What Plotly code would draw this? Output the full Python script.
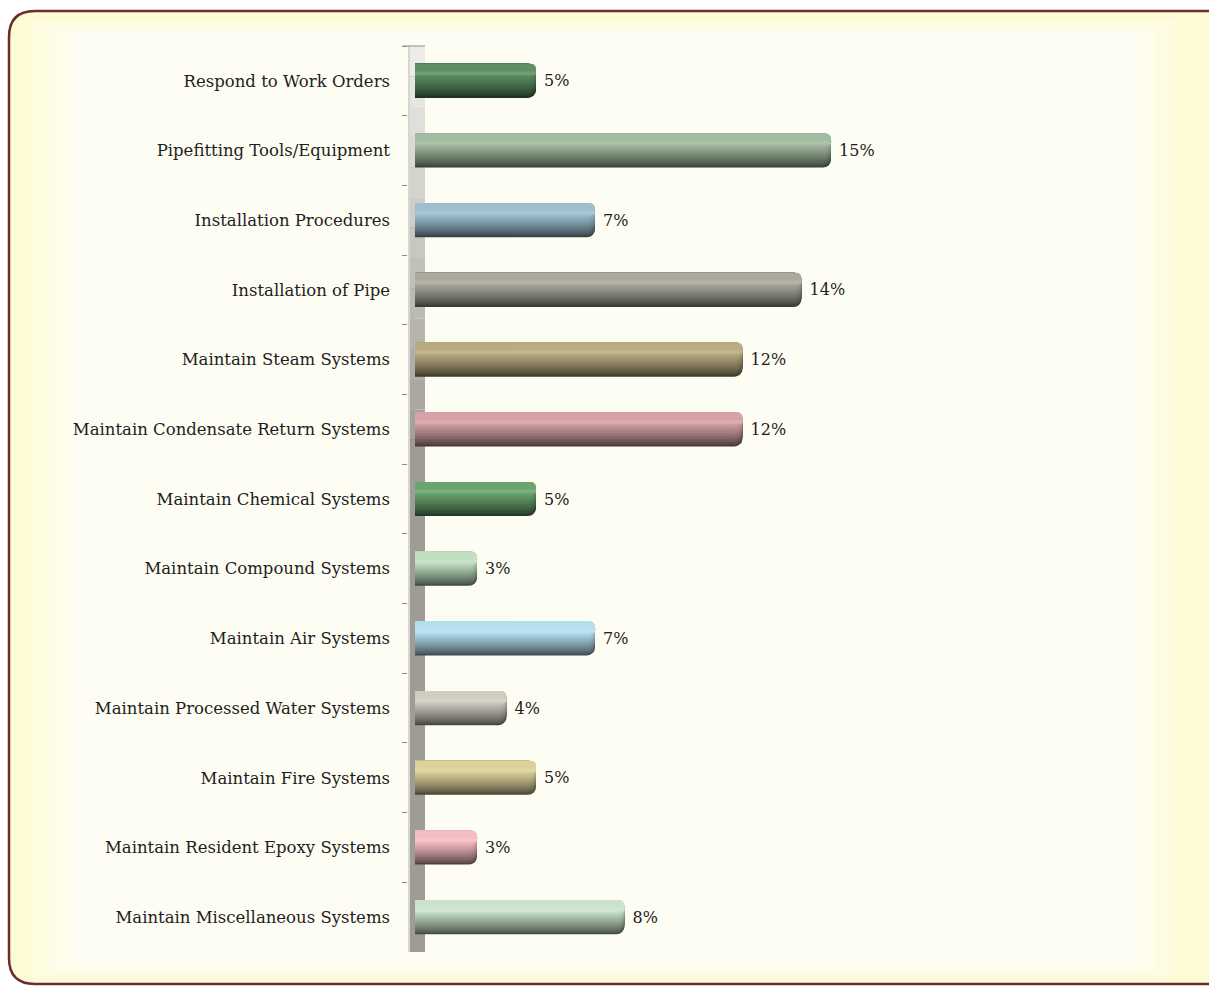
import plotly.graph_objects as go

categories = [
    "Respond to Work Orders",
    "Pipefitting Tools/Equipment",
    "Installation Procedures",
    "Installation of Pipe",
    "Maintain Steam Systems",
    "Maintain Condensate Return Systems",
    "Maintain Chemical Systems",
    "Maintain Compound Systems",
    "Maintain Air Systems",
    "Maintain Processed Water Systems",
    "Maintain Fire Systems",
    "Maintain Resident Epoxy Systems",
    "Maintain Miscellaneous Systems",
]
values = [5, 15, 7, 14, 12, 12, 5, 3, 7, 4, 5, 3, 8]
bar_colors = [
    "#5e9064", "#a3bba0", "#9cc0cf", "#aaa99c", "#b8ac80", "#d6a2a5", "#6aa46e",
    "#c0dfc0", "#b5dff0", "#d0ccc0", "#dbd19c", "#f5bcc4", "#cbe3cb",
]

W, H = 1209, 986
PL, PR, PT, PB = 408, 1138, 46, 952   # plot area in pixels
PX_PER_UNIT = 29.5
ZERO_PX = 388.5
x_lo = (PL - ZERO_PX) / PX_PER_UNIT
x_hi = (PR - ZERO_PX) / PX_PER_UNIT


def hex2rgb(h):
    h = h.lstrip("#")
    return tuple(int(h[i:i + 2], 16) for i in (0, 2, 4))


def shade(h, f):
    r, g, b = hex2rgb(h)
    return "rgb(%d,%d,%d)" % (min(255, r * f), min(255, g * f), min(255, b * f))


def tint(h, t):
    r, g, b = hex2rgb(h)
    return "rgb(%d,%d,%d)" % (r + (255 - r) * t, g + (255 - g) * t, b + (255 - b) * t)


def px(x):
    return (x - PL) / (PR - PL)


def py(y):
    return (PB - y) / (PB - PT)


fig = go.Figure()

BW = 0.49
TOP = -BW / 2
NL = 16
for i in range(NL):
    t = i / (NL - 1)
    w = BW - (BW - 0.17) * t
    f = 0.34 + (1.0 - 0.34) * (t ** 0.8)
    fig.add_trace(go.Bar(
        y=categories, x=values, orientation="h",
        width=w, offset=TOP,
        marker=dict(color=[shade(c, f) for c in bar_colors],
                    line=dict(width=0), cornerradius=8),
        text=[f"{v}%" for v in values] if i == 0 else None,
        texttemplate=" %{text}" if i == 0 else None,
        textposition="outside" if i == 0 else "none",
        textfont=dict(family="DejaVu Serif", size=16, color="#1e1e1e"),
        cliponaxis=False if i == 0 else True,
        hoverinfo="skip", showlegend=False,
    ))
# highlight band
fig.add_trace(go.Bar(
    y=categories, x=values, orientation="h",
    width=0.05, offset=TOP + 0.11,
    marker=dict(color=[tint(c, 0.12) for c in bar_colors], line=dict(width=0), cornerradius=2),
    hoverinfo="skip", showlegend=False, textposition="none",
))

shapes = []
# outer rounded frame
x0, x1, y0, y1, r = 9, 1232, 11, 984, 26
path = (f"M {px(x0+r)},{py(y0)} L {px(x1-r)},{py(y0)} Q {px(x1)},{py(y0)} {px(x1)},{py(y0+r)} "
        f"L {px(x1)},{py(y1-r)} Q {px(x1)},{py(y1)} {px(x1-r)},{py(y1)} "
        f"L {px(x0+r)},{py(y1)} Q {px(x0)},{py(y1)} {px(x0)},{py(y1-r)} "
        f"L {px(x0)},{py(y0+r)} Q {px(x0)},{py(y0)} {px(x0+r)},{py(y0)} Z")
shapes.append(dict(type="path", xref="paper", yref="paper", path=path,
                   fillcolor="#fdfbd4", line=dict(color="#6b2c2c", width=2.5), layer="below"))
# soft intermediate + inner panel
for (a, b, c, d, col) in [(30, 1175, 20, 978, "#fefce0"), (50, 1155, 26, 972, "#fefdea"),
                          (67, 1138, 32, 965, "#fdfdf3")]:
    shapes.append(dict(type="rect", xref="paper", yref="paper",
                       x0=px(a), x1=px(b), y0=py(c), y1=py(d),
                       fillcolor=col, line=dict(width=0), layer="below"))

# wall (side wall of 3D chart)
WALL_L, WALL_R = 408, 425
n = 14
g_top, g_bot = (236, 236, 232), (158, 156, 148)
ystart, yend = PT, 470
for k in range(n):
    t = k / (n - 1)
    col = "rgb(%d,%d,%d)" % tuple(g_top[j] + (g_bot[j] - g_top[j]) * t for j in range(3))
    ya = ystart + (yend - ystart) * k / n
    yb = ystart + (yend - ystart) * (k + 1) / n
    for (xa, xb, lay) in [(WALL_L, WALL_R, "below"), (WALL_L, 415, "above")]:
        shapes.append(dict(type="rect", xref="paper", yref="paper",
                           x0=px(xa), x1=px(xb), y0=py(ya), y1=py(yb),
                           fillcolor=col, line=dict(width=0), layer=lay))
for (xa, xb, lay) in [(WALL_L, WALL_R, "below"), (WALL_L, 415, "above")]:
    shapes.append(dict(type="rect", xref="paper", yref="paper",
                       x0=px(xa), x1=px(xb), y0=py(yend), y1=py(PB),
                       fillcolor="rgb(158,156,148)", line=dict(width=0), layer=lay))
# light left edge of wall
shapes.append(dict(type="line", xref="paper", yref="paper", x0=px(409), x1=px(409),
                   y0=py(PT), y1=py(PB), line=dict(color="#d6d6d2", width=2), layer="above"))
shapes.append(dict(type="line", xref="paper", yref="paper", x0=px(403), x1=px(WALL_R),
                   y0=py(PT), y1=py(PT), line=dict(color="#8e8e8a", width=1), layer="above"))

fig.update_layout(
    width=W, height=H,
    margin=dict(l=PL, r=W - PR, t=PT, b=H - PB, pad=0),
    paper_bgcolor="white", plot_bgcolor="rgba(0,0,0,0)",
    barmode="overlay",
    shapes=shapes,
    xaxis=dict(range=[x_lo, x_hi], showgrid=False, zeroline=False, showticklabels=False,
               showline=False, ticks=""),
    yaxis=dict(range=[len(categories) - 0.5, -0.5], type="category",
               showgrid=False, zeroline=False, showline=False,
               ticks="outside", tickson="boundaries", ticklen=5, tickwidth=1,
               tickcolor="#8a8a86", ticklabelstandoff=17,
               tickfont=dict(family="DejaVu Serif", size=16.5, color="#1e1e1e")),
)

fig.write_html("out.html", config={"displayModeBar": False},
               post_script="document.body.style.margin='0';document.body.style.overflow='hidden';")
